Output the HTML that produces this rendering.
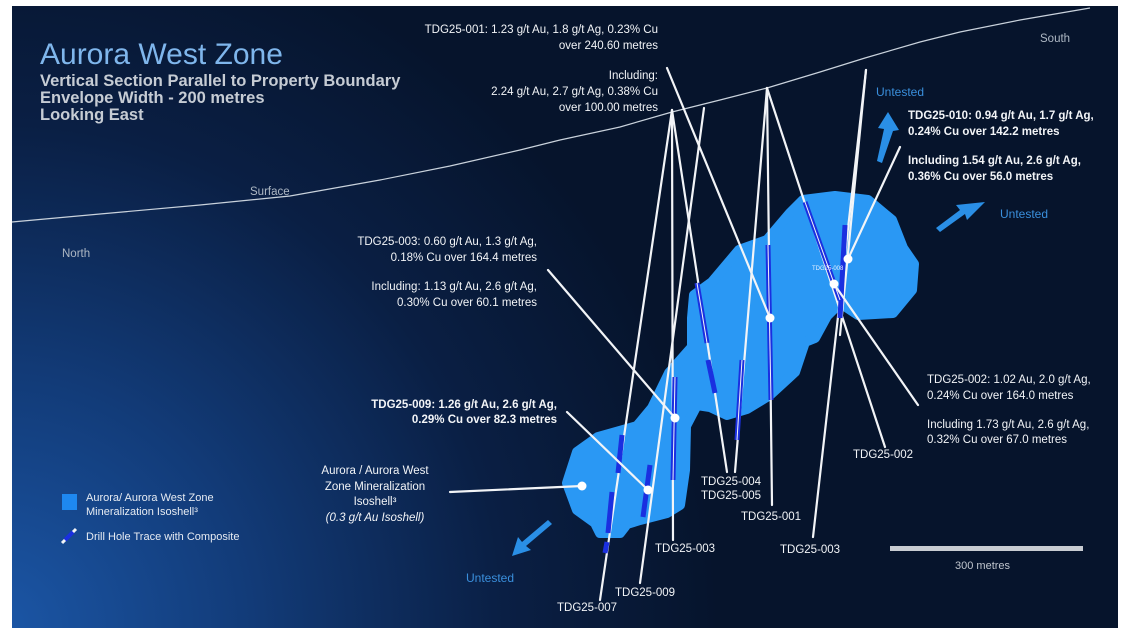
<!DOCTYPE html>
<html><head><meta charset="utf-8"><style>
html,body{margin:0;padding:0;background:#fff;}
svg{display:block;}
text{font-family:"Liberation Sans",sans-serif;}
</style></head><body>
<svg width="1136" height="628" viewBox="0 0 1136 628" xmlns="http://www.w3.org/2000/svg">
<defs>
<radialGradient id="bg" cx="0" cy="628" r="720" gradientUnits="userSpaceOnUse">
<stop offset="0" stop-color="#1b56a6"/>
<stop offset="0.35" stop-color="#123b78"/>
<stop offset="0.7" stop-color="#0a1f44"/>
<stop offset="1" stop-color="#06142c"/>
</radialGradient>
</defs>
<rect x="12" y="6" width="1106" height="622" fill="url(#bg)"/>

<!-- surface -->
<polyline fill="none" stroke="#c9d2dc" stroke-width="1.2" points="12,222 100,214 200,205 290,196 380,180 450,166 520,150 560,140 620,127 672,112 720,100 767,88 820,72 865,58 920,42 960,32 1020,20 1090,8"/>

<!-- isoshell -->
<path fill="#2a98f4" stroke="#2a98f4" stroke-width="10" stroke-linejoin="round" d="M803,200 L835,196 L868,200 L892,220 L903,248 L914,264 L912,290 L893,313 L858,315 L840,303 L827,316 L815,338 L805,342 L795,372 L770,395 L747,409 L727,415 L710,407 L697,405 L686,426 L685,470 L680,505 L667,513 L640,520 L627,524 L620,533 L600,533 L595,523 L577,510 L567,483 L577,452 L598,437 L637,426 L652,408 L669,373 L692,347 L692,318 L694,295 L712,282 L739,250 L767,240 L790,213 Z"/>

<!-- drill holes -->
<g stroke="#f2f4f7" stroke-width="2.2" fill="none" stroke-linecap="round">
<line x1="767" y1="88" x2="772" y2="505"/>
<line x1="767" y1="88" x2="885" y2="447"/>
<line x1="767" y1="88" x2="735" y2="472"/>
<line x1="672" y1="110" x2="673" y2="540"/>
<line x1="672" y1="110" x2="727" y2="472"/>
<line x1="672" y1="110" x2="600" y2="600"/>
<line x1="704" y1="108" x2="640" y2="583"/>
<line x1="866" y1="70" x2="813" y2="537"/>
<line x1="866" y1="70" x2="840" y2="335"/>
</g>
<!-- composites -->
<g stroke="#1a2fe0" stroke-width="5" fill="none">
<line x1="697" y1="283" x2="707" y2="343"/>
<line x1="708" y1="360" x2="715" y2="393"/>
<line x1="768" y1="245" x2="771" y2="400"/>
<line x1="805" y1="202" x2="840" y2="300"/>
<line x1="845" y1="225" x2="840" y2="318"/>
<line x1="675" y1="377" x2="673" y2="480"/>
<line x1="650" y1="465" x2="643" y2="517"/>
<line x1="622" y1="435" x2="618" y2="473"/>
<line x1="612" y1="492" x2="608" y2="533"/>
<line x1="607" y1="542" x2="605" y2="553"/>
<line x1="742" y1="360" x2="737" y2="440"/>
</g>
<g stroke="#f2f4f7" stroke-width="1" fill="none">
<line x1="697" y1="283" x2="707" y2="343"/>
<line x1="768" y1="245" x2="771" y2="400"/>
<line x1="805" y1="202" x2="840" y2="300"/>
<line x1="675" y1="377" x2="673" y2="480"/>
<line x1="742" y1="360" x2="737" y2="440"/>
</g>
<text x="812" y="270" font-size="6" fill="#e8f2ff">TDG25-008</text>

<!-- leaders -->
<g stroke="#f2f4f7" stroke-width="2.2" fill="none" stroke-linecap="round">
<line x1="667" y1="68" x2="770" y2="318"/>
<line x1="548" y1="270" x2="675" y2="418"/>
<line x1="567" y1="412" x2="648" y2="490"/>
<line x1="450" y1="492" x2="582" y2="486"/>
<line x1="900" y1="147" x2="848" y2="259"/>
<line x1="834" y1="284" x2="918" y2="405"/>
</g>
<g fill="#fff">
<circle cx="770" cy="318" r="4.5"/><circle cx="675" cy="418" r="4.5"/>
<circle cx="648" cy="490" r="4.5"/><circle cx="582" cy="486" r="4.5"/>
<circle cx="848" cy="259" r="4.5"/><circle cx="834" cy="284" r="4.5"/>
</g>

<!-- arrows -->
<g fill="#2a8fe6">
<polygon points="888,112 899,130 893,131 882,163 877,161 884,129 878,128"/>
<polygon points="985,202 967,220 965,214 940,232 936,228 960,210 956,205"/>
<polygon points="512,556 518,537 522,542 548,520 552,524 526,546 531,550"/>
</g>

<!-- titles -->
<text x="40" y="64" font-size="30" fill="#7fb6ec">Aurora West Zone</text>
<g font-size="16.5" font-weight="bold" fill="#c6ccd4">
<text x="40" y="86">Vertical Section Parallel to Property Boundary</text>
<text x="40" y="103">Envelope Width - 200 metres</text>
<text x="40" y="120">Looking East</text>
</g>

<g font-size="11.5" fill="#f2f4f7">
<g text-anchor="end">
<text x="658" y="33">TDG25-001: 1.23 g/t Au, 1.8 g/t Ag, 0.23% Cu</text>
<text x="658" y="49">over 240.60 metres</text>
<text x="658" y="79">Including:</text>
<text x="658" y="95">2.24 g/t Au, 2.7 g/t Ag, 0.38% Cu</text>
<text x="658" y="111">over 100.00 metres</text>
<text x="537" y="245">TDG25-003: 0.60 g/t Au, 1.3 g/t Ag,</text>
<text x="537" y="261">0.18% Cu over 164.4 metres</text>
<text x="537" y="290">Including: 1.13 g/t Au, 2.6 g/t Ag,</text>
<text x="537" y="306">0.30% Cu over 60.1 metres</text>
<text x="557" y="408" font-weight="bold">TDG25-009: 1.26 g/t Au, 2.6 g/t Ag,</text>
<text x="557" y="423" font-weight="bold">0.29% Cu over 82.3 metres</text>
</g>
<g font-weight="bold">
<text x="908" y="119">TDG25-010: 0.94 g/t Au, 1.7 g/t Ag,</text>
<text x="908" y="135">0.24% Cu over 142.2 metres</text>
<text x="908" y="164">Including 1.54 g/t Au, 2.6 g/t Ag,</text>
<text x="908" y="180">0.36% Cu over 56.0 metres</text>
</g>
<text x="927" y="383">TDG25-002: 1.02 Au, 2.0 g/t Ag,</text>
<text x="927" y="399">0.24% Cu over 164.0 metres</text>
<text x="927" y="428">Including 1.73 g/t Au, 2.6 g/t Ag,</text>
<text x="927" y="443">0.32% Cu over 67.0 metres</text>
<g text-anchor="middle">
<text x="375" y="474">Aurora / Aurora West</text>
<text x="375" y="490">Zone Mineralization</text>
<text x="375" y="505">Isoshell³</text>
<text x="375" y="521" font-style="italic">(0.3 g/t Au Isoshell)</text>
</g>
<text x="701" y="485">TDG25-004</text>
<text x="701" y="499">TDG25-005</text>
<text x="741" y="520">TDG25-001</text>
<text x="655" y="552">TDG25-003</text>
<text x="780" y="553">TDG25-003</text>
<text x="853" y="458">TDG25-002</text>
<text x="615" y="596">TDG25-009</text>
<text x="557" y="611">TDG25-007</text>
</g>

<g font-size="12" fill="#3a8fdc">
<text x="876" y="96">Untested</text>
<text x="1000" y="218">Untested</text>
<text x="466" y="582">Untested</text>
</g>
<g font-size="11.5" fill="#aeb8c4">
<text x="1040" y="42">South</text>
<text x="62" y="257">North</text>
<text x="250" y="195">Surface</text>
<text x="955" y="569" fill="#c0c6ce" font-size="11">300 metres</text>
</g>
<rect x="890" y="546" width="193" height="5" fill="#c8ccd2"/>

<!-- legend -->
<rect x="62" y="494" width="15" height="16" fill="#1e88f0"/>
<g stroke-linecap="butt">
<line x1="62" y1="543" x2="76" y2="529" stroke="#f2f4f7" stroke-width="3"/>
<line x1="65" y1="540" x2="73" y2="532" stroke="#1a2fe0" stroke-width="4"/>
</g>
<g font-size="11" fill="#e6ebf2">
<text x="86" y="501">Aurora/ Aurora West Zone</text>
<text x="86" y="515">Mineralization Isoshell³</text>
<text x="86" y="540">Drill Hole Trace with Composite</text>
</g>
</svg>
</body></html>
